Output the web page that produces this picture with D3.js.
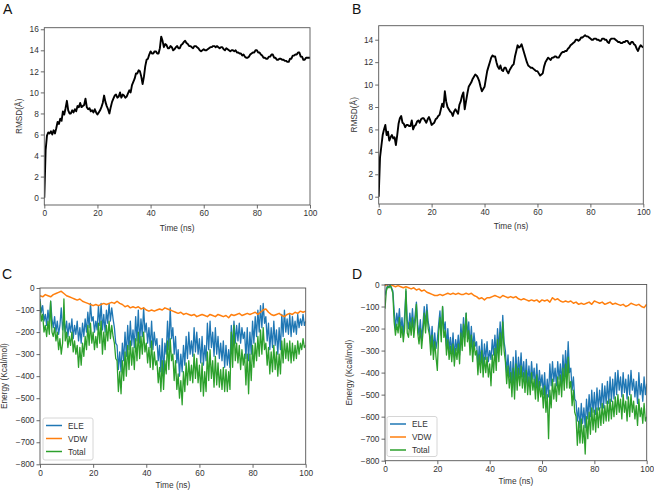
<!DOCTYPE html>
<html><head><meta charset="utf-8">
<script src="https://cdn.jsdelivr.net/npm/d3@7"></script>
<style>
body{margin:0;background:#fff}
svg{display:block}
text{font-family:"Liberation Sans",Arial,sans-serif}
</style>
</head><body>
<svg id="chart" width="654" height="490"></svg>
<script>
// ---------- DATA ----------
const panelLetters = ["A","B","C","D"];
const xTicks = [0,20,40,60,80,100];
const yTicksRmsdA = [0,2,4,6,8,10,12,14,16];
const yTicksRmsdB = [0,2,4,6,8,10,12,14];
const yTicksEnergy = [0,-100,-200,-300,-400,-500,-600,-700,-800];
const seriesNames = ["ELE","VDW","Total"];
const xLabel = "Time (ns)";
const yLabelRmsd = "RMSD(Å)";
const yLabelEnergy = "Energy (Kcal/mol)";

// sampling: 0.5 ns for RMSD, ELE, Total; 1 ns for VDW
const tHalf = d3.range(0, 100.001, 0.5);
const tOne = d3.range(0, 100.001, 1);

const rmsdA = [
0,4.5,5.9,6.2,6.1,6.3,6.0,6.4,6.1,6.6,
7.2,7.0,7.5,7.3,8.2,7.9,8.5,9.2,8.3,8.0,
8.0,8.3,8.1,8.4,8.2,8.7,8.6,9.0,8.6,8.7,
8.8,9.4,8.6,8.4,8.5,8.2,8.3,8.1,8.4,8.1,
7.9,8.1,8.3,8.6,9.0,9.7,9.1,8.7,8.4,8.0,
8.6,9.1,9.4,9.7,9.8,9.5,9.6,10.0,9.5,9.8,
9.7,9.5,9.6,9.9,10.2,10.0,10.7,11.0,11.3,11.8,
11.8,12.1,12.0,11.5,10.8,11.5,12.5,13.1,13.2,13.6,
13.9,13.7,13.7,13.9,13.9,13.7,13.7,14.2,15.3,14.9,
14.3,14.6,14.5,14.2,14.2,14.4,14.3,14.0,14.1,14.3,
14.4,14.2,14.2,14.5,14.6,14.8,14.9,14.7,14.6,14.4,
14.4,14.3,14.2,14.4,14.4,14.3,14.2,14.0,13.9,14.0,
14.1,14.0,14.0,14.1,14.2,14.3,14.3,14.4,14.4,14.3,
14.4,14.3,14.2,14.3,14.3,14.1,14.0,14.2,14.1,14.0,
13.9,14.0,14.0,13.9,14.0,13.8,13.8,13.7,13.7,13.5,
13.6,13.4,13.3,13.3,13.4,13.6,13.7,13.8,13.8,14.0,
14.0,13.8,13.8,13.6,13.5,13.3,13.3,13.2,13.2,13.4,
13.4,13.6,13.6,13.3,13.3,13.1,13.1,13.2,13.2,13.1,
13.1,13.0,13.0,12.9,12.9,13.2,13.2,13.5,13.5,13.6,
13.6,13.8,13.8,13.4,13.4,13.1,13.1,13.3,13.3,13.3,
13.3];

const rmsdB = [
0,3.5,4.5,5.5,6.0,6.4,5.5,5.8,5.0,5.3,
5.5,5.2,5.3,4.6,5.5,6.5,7.0,7.2,6.6,6.5,
6.2,6.4,6.4,6.3,6.3,6.8,6.0,6.3,6.4,6.7,
6.8,6.6,6.9,7.0,7.0,6.8,6.6,6.9,7.1,6.8,
6.4,6.5,6.6,6.9,7.0,7.2,7.3,7.8,8.3,8.0,
9.4,8.5,8.0,7.8,7.6,7.5,7.2,7.6,7.8,7.6,
7.4,8.2,8.5,9.0,9.3,7.8,8.5,9.2,9.8,10.0,
10.2,10.5,10.7,10.9,10.8,10.6,10.3,9.8,9.4,9.6,
9.8,10.5,11.2,11.6,12.0,12.4,12.6,12.5,12.5,12.0,
11.6,11.4,11.7,11.3,11.2,11.5,11.5,11.2,11.0,11.3,
11.5,11.7,11.8,12.5,13.0,13.5,13.3,13.4,13.6,13.2,
12.8,12.4,12.0,11.7,11.6,11.5,11.5,11.4,11.3,11.2,
11.2,11.0,10.8,10.9,11.0,11.6,12.0,12.2,12.4,12.3,
12.2,12.4,12.4,12.5,12.5,12.4,12.4,12.6,12.8,12.9,
12.9,13.0,13.0,13.2,13.3,13.5,13.6,13.7,13.8,14.0,
14.0,13.9,14.0,14.2,14.2,14.3,14.4,14.3,14.3,14.2,
14.1,14.0,14.0,14.1,14.1,14.0,14.0,13.9,13.9,14.1,
14.1,14.0,14.0,13.8,13.7,14.0,14.1,14.1,14.1,14.0,
13.9,13.8,13.8,13.7,13.7,13.8,13.8,13.9,13.9,13.7,
13.6,13.8,13.8,13.6,13.5,13.2,13.0,13.3,13.5,13.4,
13.3];

const eleC = [
-50,-110,-80,-150,-120,-170,-100,-160,-60,-140,
-180,-130,-200,-150,-210,-170,-90,-190,-140,-200,
-150,-220,-160,-200,-140,-230,-170,-210,-150,-240,
-180,-250,-160,-220,-140,-200,-110,-180,-70,-150,
-130,-200,-150,-190,-80,-170,-70,-190,-120,-200,
-100,-160,-70,-150,-90,-140,-180,-250,-260,-370,
-290,-380,-250,-330,-200,-310,-170,-280,-150,-260,
-190,-270,-130,-240,-100,-250,-140,-220,-90,-200,
-160,-250,-180,-270,-150,-280,-200,-260,-230,-330,
-260,-380,-230,-400,-250,-300,-150,-280,-90,-230,
-180,-300,-220,-340,-280,-400,-300,-380,-260,-350,
-220,-320,-200,-300,-240,-310,-180,-290,-200,-300,
-230,-340,-220,-350,-260,-330,-160,-280,-150,-270,
-200,-310,-180,-300,-220,-320,-250,-330,-240,-360,
-260,-350,-280,-360,-170,-270,-150,-250,-170,-240,
-160,-250,-180,-230,-200,-320,-180,-330,-200,-300,
-150,-250,-130,-220,-100,-200,-80,-180,-70,-160,
-130,-240,-160,-280,-180,-270,-150,-260,-190,-300,
-180,-280,-120,-220,-100,-200,-140,-210,-120,-220,
-130,-200,-150,-210,-120,-180,-140,-170,-120,-170,
-150];

const totalC = [
-60,-150,-120,-200,-170,-220,-150,-210,-60,-200,
-220,-180,-240,-200,-280,-230,-300,-250,-50,-240,
-200,-270,-220,-260,-200,-290,-240,-300,-260,-360,
-270,-350,-250,-310,-220,-280,-170,-260,-160,-250,
-200,-280,-220,-270,-160,-250,-150,-300,-200,-280,
-170,-240,-150,-230,-170,-220,-250,-320,-330,-470,
-380,-480,-330,-420,-290,-400,-260,-370,-240,-350,
-270,-370,-230,-330,-200,-320,-220,-300,-200,-290,
-250,-340,-270,-360,-240,-370,-290,-350,-330,-430,
-360,-470,-330,-460,-330,-390,-240,-370,-230,-330,
-300,-420,-330,-460,-390,-500,-420,-530,-380,-470,
-340,-440,-330,-420,-350,-430,-300,-410,-320,-430,
-350,-470,-340,-490,-380,-470,-290,-420,-280,-410,
-330,-450,-310,-440,-340,-450,-370,-460,-360,-470,
-370,-470,-380,-460,-200,-360,-170,-330,-250,-340,
-260,-370,-280,-350,-300,-440,-300,-480,-300,-420,
-260,-360,-250,-330,-220,-310,-190,-300,-180,-280,
-250,-350,-270,-390,-290,-380,-260,-370,-290,-400,
-300,-390,-240,-340,-230,-320,-250,-330,-240,-340,
-250,-330,-260,-320,-240,-300,-250,-280,-230,-270,
-260];

const vdwC = [
-35,-40,-30,-35,-40,-30,-25,-20,-15,-25,
-35,-40,-45,-50,-55,-50,-60,-65,-70,-75,
-80,-75,-80,-75,-70,-75,-70,-65,-70,-60,
-70,-75,-85,-80,-90,-85,-90,-85,-95,-90,
-100,-105,-100,-105,-100,-95,-100,-90,-95,-100,
-105,-110,-115,-110,-120,-115,-120,-125,-120,-130,
-125,-120,-125,-130,-120,-125,-130,-120,-125,-130,
-125,-135,-120,-125,-120,-115,-125,-120,-115,-120,
-115,-110,-120,-110,-100,-95,-110,-120,-125,-120,
-115,-125,-130,-120,-115,-120,-110,-115,-105,-110,
-105];

const eleD = [
-50,-20,-5,-10,0,-15,-30,-120,-200,-130,
-180,-110,-210,-150,-230,-140,-30,-160,-200,-130,
-190,-110,-200,-140,-80,-180,-230,-160,-250,-180,
-100,-190,-90,-170,-200,-280,-190,-300,-220,-290,
-250,-180,-120,-230,-100,-210,-170,-280,-200,-300,
-240,-310,-220,-330,-250,-300,-230,-320,-180,-260,
-150,-240,-130,-230,-170,-280,-190,-300,-220,-280,
-260,-370,-280,-350,-250,-380,-270,-340,-260,-350,
-300,-340,-250,-320,-230,-330,-200,-300,-170,-280,
-140,-260,-300,-400,-320,-420,-350,-460,-330,-480,
-300,-430,-330,-410,-310,-420,-350,-440,-340,-450,
-370,-450,-350,-430,-380,-470,-360,-480,-390,-460,
-410,-500,-400,-520,-430,-510,-360,-460,-350,-440,
-380,-460,-350,-430,-360,-450,-320,-420,-300,-410,
-260,-400,-380,-480,-420,-520,-530,-620,-560,-650,
-540,-630,-560,-650,-520,-610,-500,-600,-480,-580,
-490,-590,-470,-570,-480,-560,-450,-560,-460,-540,
-440,-540,-420,-530,-430,-520,-400,-500,-390,-480,
-420,-510,-400,-490,-430,-520,-410,-500,-390,-480,
-430,-510,-440,-540,-400,-500,-450,-530,-420,-500,
-450];

const totalD = [
-110,-30,-10,-15,-5,-20,-40,-170,-230,-180,
-220,-150,-240,-190,-260,-200,-20,-220,-240,-170,
-230,-150,-240,-180,-90,-220,-270,-200,-290,-220,
-130,-220,-120,-200,-230,-320,-230,-340,-260,-330,
-390,-220,-150,-260,-100,-240,-210,-320,-250,-340,
-280,-350,-270,-370,-290,-340,-270,-360,-220,-300,
-180,-280,-130,-260,-210,-320,-230,-350,-260,-320,
-300,-410,-320,-400,-300,-420,-330,-400,-330,-420,
-360,-460,-320,-400,-290,-390,-250,-350,-220,-320,
-170,-300,-350,-450,-370,-470,-400,-510,-380,-520,
-360,-480,-380,-460,-370,-470,-400,-490,-390,-500,
-420,-500,-400,-480,-430,-520,-410,-530,-440,-510,
-470,-560,-460,-580,-500,-700,-480,-560,-430,-520,
-450,-530,-420,-500,-410,-510,-380,-480,-360,-470,
-330,-470,-440,-550,-480,-580,-600,-730,-620,-720,
-610,-720,-640,-770,-600,-700,-580,-680,-560,-660,
-570,-670,-560,-650,-560,-640,-540,-630,-550,-620,
-530,-620,-520,-610,-530,-600,-510,-590,-500,-580,
-520,-610,-500,-580,-530,-620,-510,-600,-500,-580,
-530,-610,-550,-640,-520,-600,-560,-630,-540,-620,
-600];

const vdwD = [
-5,0,0,-5,-10,-5,-10,-15,-10,-15,
-20,-15,-25,-20,-30,-25,-35,-40,-45,-50,
-50,-45,-50,-45,-40,-45,-40,-45,-40,-45,
-45,-40,-45,-40,-50,-55,-65,-60,-70,-60,
-60,-55,-50,-55,-60,-50,-55,-60,-55,-60,
-55,-65,-70,-65,-70,-75,-70,-75,-70,-80,
-70,-75,-70,-80,-60,-70,-65,-75,-80,-75,
-80,-75,-85,-80,-90,-85,-90,-85,-80,-90,
-75,-80,-85,-80,-90,-85,-80,-90,-85,-90,
-95,-90,-100,-95,-85,-90,-95,-90,-100,-105,
-90];

// ---------- DRAW ----------
const svg = d3.select("#chart");
const colors = {ELE:"#1f77b4", VDW:"#ff7f0e", Total:"#2ca02c"};
const FS = "8.3px";

function panel(cfg){
  const g = svg.append("g");
  const x = d3.scaleLinear().domain([0,100]).range([cfg.x0, cfg.x1]);
  const y = d3.scaleLinear().domain(cfg.yDomain).range([cfg.y1, cfg.y0]);
  const fmt = d3.format("d");

  const xa = g.append("g").attr("transform",`translate(0,${cfg.y1})`)
    .call(d3.axisBottom(x).tickValues(xTicks).tickSize(3.5).tickPadding(2).tickFormat(fmt));
  const ya = g.append("g").attr("transform",`translate(${cfg.x0},0)`)
    .call(d3.axisLeft(y).tickValues(cfg.yTicks).tickSize(3.5).tickPadding(2).tickFormat(fmt));
  [xa,ya].forEach(a=>{
    a.select(".domain").remove();
    a.selectAll("line").attr("stroke","#444").attr("stroke-width",0.8);
    a.selectAll("text").attr("fill","#333").style("font-size",FS)
      .style("font-family","'Liberation Sans',Arial,sans-serif");
  });

  const clipId = "clip"+cfg.letter;
  g.append("clipPath").attr("id",clipId).append("rect")
    .attr("x",cfg.x0).attr("y",cfg.y0).attr("width",cfg.x1-cfg.x0).attr("height",cfg.y1-cfg.y0);

  cfg.series.forEach(s=>{
    const line = d3.line().x((d,i)=>x(s.t[i])).y(d=>y(d));
    g.append("path").datum(s.v)
      .attr("clip-path",`url(#${clipId})`)
      .attr("fill","none").attr("stroke",s.color).attr("stroke-width",s.w)
      .attr("stroke-linejoin","round").attr("d",line);
  });

  g.append("rect").attr("x",cfg.x0).attr("y",cfg.y0)
    .attr("width",cfg.x1-cfg.x0).attr("height",cfg.y1-cfg.y0)
    .attr("fill","none").attr("stroke","#555").attr("stroke-width",0.9);

  g.append("text").attr("x",(cfg.x0+cfg.x1)/2).attr("y",cfg.xLabelY)
    .attr("text-anchor","middle").attr("fill","#333").style("font-size",FS).text(xLabel);
  g.append("text").attr("transform",`translate(${cfg.yLabelX},${(cfg.y0+cfg.y1)/2}) rotate(-90)`)
    .attr("text-anchor","middle").attr("fill","#333").style("font-size",FS).text(cfg.yLabel);

  g.append("text").attr("x",cfg.letterX).attr("y",cfg.letterY)
    .style("font-size","14px").attr("fill","#111").text(cfg.letter);

  if(cfg.legend){
    const L = cfg.legend;
    g.append("rect").attr("x",L.x).attr("y",L.y).attr("width",L.w).attr("height",L.h)
      .attr("rx",2).attr("fill","#fff").attr("fill-opacity",0.8)
      .attr("stroke","#ccc").attr("stroke-width",0.8);
    seriesNames.forEach((n,i)=>{
      const yy = L.y + 7.5 + i*13;
      g.append("line").attr("x1",L.x+3).attr("x2",L.x+19).attr("y1",yy).attr("y2",yy)
        .attr("stroke",colors[n]).attr("stroke-width",1.5);
      g.append("text").attr("x",L.x+25).attr("y",yy+3).attr("fill","#333")
        .style("font-size",FS).text(n);
    });
  }
}

panel({letter:panelLetters[0], x0:44.3, x1:310, y0:27.7, y1:205, yDomain:[-0.7,16.15],
  yTicks:yTicksRmsdA, yLabel:yLabelRmsd, xLabelY:230.5, yLabelX:22,
  letterX:3, letterY:14,
  series:[{t:tHalf, v:rmsdA, color:"#000", w:1.9}]});

panel({letter:panelLetters[1], x0:378.7, x1:643.3, y0:25.7, y1:204, yDomain:[-0.65,15.25],
  yTicks:yTicksRmsdB, yLabel:yLabelRmsd, xLabelY:228.5, yLabelX:357,
  letterX:352, letterY:14,
  series:[{t:tHalf, v:rmsdB, color:"#000", w:1.9}]});

panel({letter:panelLetters[2], x0:40, x1:305.7, y0:288, y1:464.3, yDomain:[-800,0],
  yTicks:yTicksEnergy, yLabel:yLabelEnergy, xLabelY:488, yLabelX:7,
  letterX:2, letterY:279,
  legend:{x:43, y:418, w:50, h:42},
  series:[{t:tHalf, v:eleC, color:colors.ELE, w:1.3},
          {t:tOne, v:vdwC, color:colors.VDW, w:1.5},
          {t:tHalf, v:totalC, color:colors.Total, w:1.3}]});

panel({letter:panelLetters[3], x0:385, x1:646.7, y0:284.5, y1:460.7, yDomain:[-800,0],
  yTicks:yTicksEnergy, yLabel:yLabelEnergy, xLabelY:484, yLabelX:352,
  letterX:352, letterY:279,
  legend:{x:387, y:416.5, w:50, h:40},
  series:[{t:tHalf, v:eleD, color:colors.ELE, w:1.3},
          {t:tOne, v:vdwD, color:colors.VDW, w:1.5},
          {t:tHalf, v:totalD, color:colors.Total, w:1.3}]});
</script>
</body></html>
